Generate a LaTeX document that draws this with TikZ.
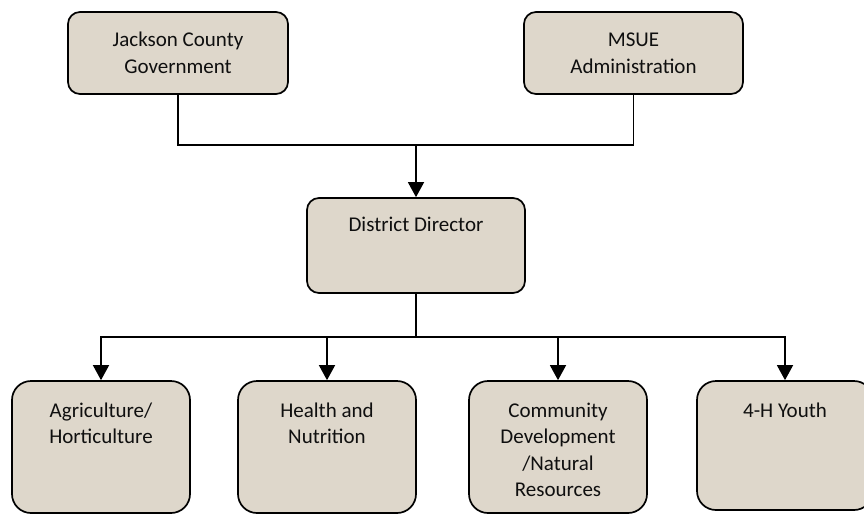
\documentclass[tikz,border=0pt]{standalone}
\usepackage{fontspec}
\setmainfont{Carlito}
\usetikzlibrary{arrows.meta}
\definecolor{boxfill}{RGB}{222,215,203}
\definecolor{txt}{RGB}{15,15,15}
\tikzset{
  box/.style={draw=black, line width=1.7pt, fill=boxfill, rounded corners=#1, inner sep=0pt},
  box/.default=12pt,
  lbl/.style={anchor=north, inner sep=0pt, align=center, text=txt, font=\fontsize{21}{26.5}\selectfont},
  conn/.style={line width=1.5pt, draw=black},
  arr/.style={conn, -{Triangle[width=16pt,length=15pt]}}
}
\begin{document}
\begin{tikzpicture}[x=1pt,y=-1pt]
\useasboundingbox (0,0) rectangle (864,514);
% top boxes
\node[box, minimum width=220pt, minimum height=82pt] (jcg) at (178,53) {};
\node[box, minimum width=219pt, minimum height=82pt] (msue) at (633.5,53) {};
\node[box, minimum width=218pt, minimum height=95pt] (dd) at (416,245.5) {};
% bottom boxes
\node[box=19pt, minimum width=178pt, minimum height=132pt] (agri) at (101,447) {};
\node[box=19pt, minimum width=178pt, minimum height=132pt] (hn) at (327,447) {};
\node[box=19pt, minimum width=178pt, minimum height=132pt] (cd) at (558,447) {};
\node[box=19pt, minimum width=176pt, minimum height=129pt] (yh) at (785,445.5) {};
% labels
\node[lbl] (jcgT) at ([yshift=-17pt]jcg.north) {\strut Jackson County\\Government};
\node[lbl] (msueT) at ([yshift=-17pt]msue.north) {\strut MSUE\\Administration};
\node[lbl] (ddT) at ([yshift=-16pt]dd.north) {\strut District Director};
\node[lbl] (agriT) at ([yshift=-18.5pt]agri.north) {\strut Agriculture/\\Horticulture};
\node[lbl] (hnT) at ([yshift=-18.5pt]hn.north) {\strut Health and\\Nutrition};
\node[lbl] (cdT) at ([yshift=-18.5pt]cd.north) {\strut Community\\Development\\/Natural\\Resources};
\node[lbl] (yhT) at ([yshift=-18.5pt]yh.north) {\strut 4-H Youth};
% connectors
\coordinate (top) at (416,145);
\coordinate (bot) at (416,337);
\draw[conn] (jcg.south) |- (top) -| (msue.south);
\draw[arr] (top) -- (dd.north);
\draw[conn] (dd.south) -- (bot);
\draw[arr] (bot) -| (agri.north);
\draw[arr] (bot) -| (hn.north);
\draw[arr] (bot) -| (cd.north);
\draw[arr] (bot) -| (yh.north);
\end{tikzpicture}
\end{document}
